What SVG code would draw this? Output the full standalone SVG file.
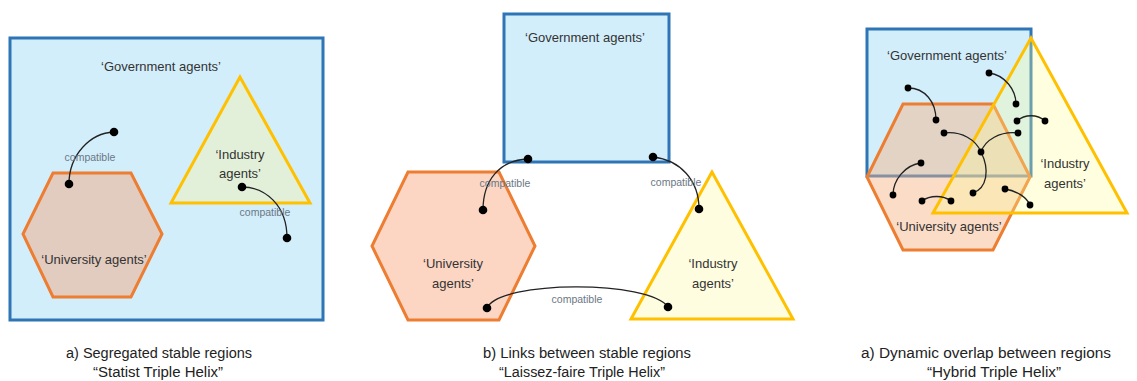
<svg xmlns="http://www.w3.org/2000/svg" width="1137" height="381" viewBox="0 0 1137 381">
<style>
.gov{fill:#D3EEFB;stroke:#2E75B6;stroke-width:3}
.uni{stroke:#ED7D31;stroke-width:3;stroke-linejoin:miter}
.ind{stroke:#FFC000;stroke-width:3;stroke-linejoin:miter}
.lbl{font-family:"Liberation Sans",Arial,sans-serif;font-size:13px;fill:#333333;text-anchor:middle}
.cmp{font-family:"Liberation Sans",Arial,sans-serif;font-size:10.5px;fill:#6B7785;text-anchor:middle}
.cap{font-family:"Liberation Sans",Arial,sans-serif;font-size:14px;fill:#222222}
.link{fill:none;stroke:#222222;stroke-width:1.3}
.dot{fill:#000000}
</style>
<rect width="1137" height="381" fill="#FFFFFF"/>

<!-- Panel a -->
<g id="a-government">
<rect class="gov" x="10" y="38" width="313" height="282"/>
<text class="lbl" x="161" y="71">‘Government agents’</text>
</g>
<g id="a-industry">
<polygon class="ind" fill="#E2F0D9" points="240,77 171,203 310,203"/>
<text class="lbl" x="240" y="159">‘Industry</text>
<text class="lbl" x="240" y="178">agents’</text>
</g>
<g id="a-university">
<polygon class="uni" fill="#E2CBBF" points="53,173 131,173 162,234 131,297 53,297 23,234"/>
<text class="lbl" x="94" y="264">‘University agents’</text>
</g>
<g id="a-links">
<path class="link" d="M69,184 C69,155 90,133 114,132"/>
<path class="link" d="M242,187 C265,187 287,205 287,238"/>
<circle class="dot" cx="114" cy="132" r="4.3"/>
<circle class="dot" cx="69" cy="184" r="4.3"/>
<circle class="dot" cx="242" cy="187" r="4.3"/>
<circle class="dot" cx="287" cy="238" r="4.3"/>
<text class="cmp" x="90" y="161">compatible</text>
<text class="cmp" x="265" y="216">compatible</text>
</g>

<!-- Panel b -->
<g id="b-government">
<rect class="gov" x="504" y="14" width="165" height="148"/>
<text class="lbl" x="585" y="42">‘Government agents’</text>
</g>
<g id="b-university">
<polygon class="uni" fill="#FCD5C3" points="408,172 499,172 535,246 499,320 408,320 372,246"/>
<text class="lbl" x="453" y="268">‘University</text>
<text class="lbl" x="453" y="288">agents’</text>
</g>
<g id="b-industry">
<polygon class="ind" fill="#FFFDE0" points="712,172 631,319 793,319"/>
<text class="lbl" x="713" y="268">‘Industry</text>
<text class="lbl" x="713" y="288">agents’</text>
</g>
<g id="b-links">
<path class="link" d="M528,159 C500,160 483,180 483,210"/>
<path class="link" d="M653,157 C680,160 699,180 699,209"/>
<path class="link" d="M487,308 C500,280 650,280 668,307"/>
<circle class="dot" cx="528" cy="159" r="4.3"/>
<circle class="dot" cx="483" cy="210" r="4.3"/>
<circle class="dot" cx="653" cy="157" r="4.3"/>
<circle class="dot" cx="699" cy="209" r="4.3"/>
<circle class="dot" cx="487" cy="308" r="4.3"/>
<circle class="dot" cx="668" cy="307" r="4.3"/>
<text class="cmp" x="505" y="187">compatible</text>
<text class="cmp" x="676" y="186">compatible</text>
<text class="cmp" x="577" y="303">compatible</text>
</g>

<!-- Panel c -->
<g id="c-government">
<rect class="gov" x="867" y="29" width="164" height="147"/>
<text class="lbl" x="947" y="60">‘Government agents’</text>
</g>
<g id="c-university">
<polygon class="uni" fill="#F4B183" fill-opacity="0.45" points="903,104 993,104 1030,177 993,250 903,250 867,177"/>
<text class="lbl" x="949" y="231">‘University agents’</text>
</g>
<g id="c-industry">
<polygon class="ind" fill="#FFFF96" fill-opacity="0.3" points="1031,38 933,213 1127,213"/>
<text class="lbl" x="1065" y="168">‘Industry</text>
<text class="lbl" x="1065" y="188">agents’</text>
</g>
<g id="c-links">
<path class="link" d="M908,88 C925,88 936,102 936,120"/>
<path class="link" d="M989,73 C1005,75 1016,90 1016,104"/>
<path class="link" d="M1017,121 C1025,114 1037,114 1045,121"/>
<path class="link" d="M944,133 C962,131 976,140 981,152"/>
<path class="link" d="M1018,133 C1000,131 985,140 981,152"/>
<path class="link" d="M981,152 C990,170 987,188 973,193"/>
<path class="link" d="M921,163 C905,165 893,180 893,195"/>
<path class="link" d="M922,201 C930,195 943,195 951,201"/>
<path class="link" d="M1005,189 C1018,191 1027,198 1030,205"/>
<circle class="dot" cx="908" cy="88" r="3.4"/>
<circle class="dot" cx="936" cy="120" r="3.4"/>
<circle class="dot" cx="989" cy="73" r="3.4"/>
<circle class="dot" cx="1016" cy="104" r="3.4"/>
<circle class="dot" cx="1017" cy="121" r="3.4"/>
<circle class="dot" cx="1045" cy="121" r="3.4"/>
<circle class="dot" cx="944" cy="133" r="3.4"/>
<circle class="dot" cx="1018" cy="133" r="3.4"/>
<circle class="dot" cx="981" cy="152" r="3.4"/>
<circle class="dot" cx="973" cy="193" r="3.4"/>
<circle class="dot" cx="921" cy="163" r="3.4"/>
<circle class="dot" cx="893" cy="195" r="3.4"/>
<circle class="dot" cx="922" cy="201" r="3.4"/>
<circle class="dot" cx="951" cy="201" r="3.4"/>
<circle class="dot" cx="1005" cy="189" r="3.4"/>
<circle class="dot" cx="1030" cy="205" r="3.4"/>
</g>

<!-- Captions -->
<g id="captions">
<text class="cap" x="66" y="358" textLength="186" lengthAdjust="spacingAndGlyphs">a) Segregated stable regions</text>
<text class="cap" x="93" y="377" textLength="130" lengthAdjust="spacingAndGlyphs">“Statist Triple Helix”</text>
<text class="cap" x="483" y="358" textLength="208" lengthAdjust="spacingAndGlyphs">b) Links between stable regions</text>
<text class="cap" x="499" y="377" textLength="166" lengthAdjust="spacingAndGlyphs">“Laissez-faire Triple Helix”</text>
<text class="cap" x="861" y="358" textLength="250" lengthAdjust="spacingAndGlyphs">a) Dynamic overlap between regions</text>
<text class="cap" x="927" y="377" textLength="134" lengthAdjust="spacingAndGlyphs">“Hybrid Triple Helix”</text>
</g>
</svg>
